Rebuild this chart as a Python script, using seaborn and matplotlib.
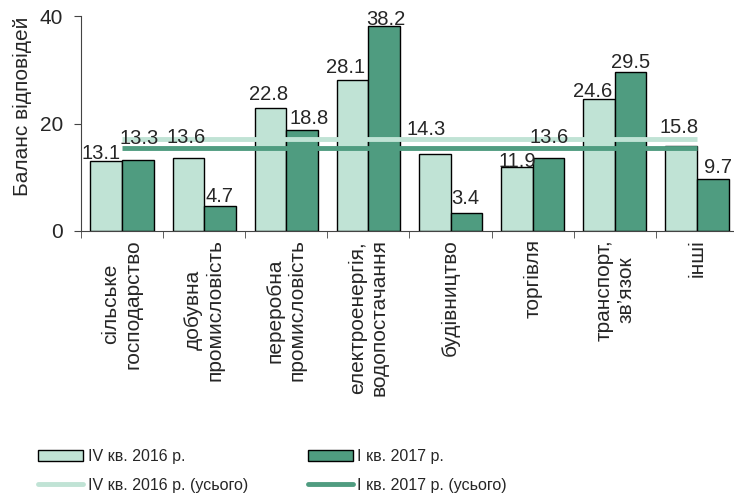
import numpy as np
import pandas as pd
import matplotlib
matplotlib.use('Agg')
import matplotlib.pyplot as plt
import seaborn as sns
from matplotlib.patches import Patch
from matplotlib.lines import Line2D

# дані
galuzi = ['сільське\nгосподарство', 'добувна\nпромисловість', 'переробна\nпромисловість',
          'електроенергія,\nводопостачання', 'будівництво', 'торгівля',
          'транспорт,\nзв\u2019язок', 'інші']
iv_2016 = [13.1, 13.6, 22.8, 28.1, 14.3, 11.9, 24.6, 15.8]
i_2017 = [13.3, 4.7, 18.8, 38.2, 3.4, 13.6, 29.5, 9.7]
serii = ['IV кв. 2016 р.', 'I кв. 2017 р.']
usogo = [17.2, 15.5]  # IV кв. 2016 (усього), I кв. 2017 (усього)
y_ticks = [0, 20, 40]

# зсуви підписів (пікселі), щоб не налазили на лінії
zsuv_x = [[-5, -2, -2, -7, -9, 0, -6, -2], [1, 0, 7, 2, -1, 1, 0, 5]]
zsuv_y = [[2, 15, 8, 7, 19, 0, 2, 13], [16, 4, 6, 1, 9, 15, 4, 6]]

svitlyi = '#c0e3d5'
temnyi = '#4f9c80'

df = pd.DataFrame({
    'galuz': galuzi * 2,
    'seriya': [serii[0]] * len(galuzi) + [serii[1]] * len(galuzi),
    'balans': iv_2016 + i_2017,
})

sns.set_style('ticks')
plt.rcParams['font.family'] = ['Liberation Sans', 'DejaVu Sans']

fig = plt.figure(figsize=(7.34, 4.96), dpi=100)
ax = fig.add_axes([81 / 734, 265 / 496, 657 / 734, 215 / 496])

sns.barplot(data=df, x='galuz', y='balans', hue='seriya', palette=[svitlyi, temnyi],
            saturation=1, width=0.77, edgecolor='black', linewidth=1, ax=ax,
            legend=False, zorder=2)

# лінії "усього"
ax.hlines(usogo[0], 0, len(galuzi) - 1, color=svitlyi, linewidth=3.5, zorder=3)
ax.hlines(usogo[1], 0, len(galuzi) - 1, color=temnyi, linewidth=3.5, zorder=3)

for k, cont in enumerate(ax.containers):
    for i, bar in enumerate(cont):
        h = bar.get_height()
        ax.annotate('%.1f' % h, (bar.get_x() + bar.get_width() / 2, h),
                    xytext=(zsuv_x[k][i], zsuv_y[k][i]), textcoords='offset pixels',
                    ha='center', va='baseline', fontsize=14.5, zorder=5)

ax.set_xlim(-0.5, len(galuzi) - 0.5)
ax.set_ylim(0, 40)
ax.set_yticks(y_ticks)
ax.tick_params(axis='y', labelsize=15, length=5, color='#444444', pad=8)
ax.set_xticks(range(len(galuzi)))
ax.set_xticklabels(galuzi, rotation=90, fontsize=15, va='top', ha='center')
ax.tick_params(axis='x', length=0, pad=6)
ax.set_xticks(np.arange(-0.5, len(galuzi), 1), minor=True)
ax.tick_params(axis='x', which='minor', length=5, color='#444444')
ax.set_xlabel('')
ax.set_ylabel('Баланс відповідей', fontsize=15)
ax.yaxis.set_label_coords(-49 / 657, 0.58)
for s in ['top', 'right']:
    ax.spines[s].set_visible(False)
for s in ['left', 'bottom']:
    ax.spines[s].set_color('#444444')

leg_font = {'family': ['Liberation Sans'], 'size': 11.5}
h1 = [Patch(facecolor=svitlyi, edgecolor='black', linewidth=1),
      Line2D([], [], color=svitlyi, linewidth=3.5)]
h2 = [Patch(facecolor=temnyi, edgecolor='black', linewidth=1),
      Line2D([], [], color=temnyi, linewidth=3.5)]
fig.legend(h1, [serii[0], serii[0] + ' (усього)'], loc='upper left',
           bbox_to_anchor=(30 / 734, 1 - 441 / 496), frameon=False, prop=leg_font,
           borderpad=0, handlelength=2.8, handletextpad=0.3, labelspacing=0.85)
fig.legend(h2, [serii[1], serii[1] + ' (усього)'], loc='upper left',
           bbox_to_anchor=(300 / 734, 1 - 441 / 496), frameon=False, prop=leg_font,
           borderpad=0, handlelength=2.8, handletextpad=0.3, labelspacing=0.85)

fig.savefig('out.png', dpi=100)
